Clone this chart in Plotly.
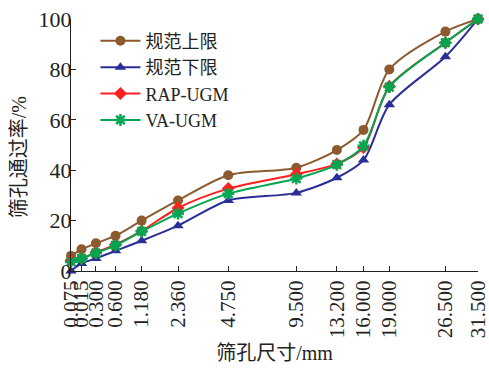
import plotly.graph_objects as go

sizes = [0.075, 0.15, 0.3, 0.6, 1.18, 2.36, 4.75, 9.5, 13.2, 16.0, 19.0, 26.5, 31.5]
tick_labels = ["0.075", "0.015", "0.300", "0.600", "1.180", "2.360", "4.750",
               "9.500", "13.200", "16.000", "19.000", "26.500", "31.500"]
upper = [6, 8.6, 11, 14, 20, 28, 38, 41, 48, 56, 80, 95, 100]
lower = [0, 3, 5, 8, 12, 18, 28, 31, 37, 44, 66, 85, 100]
rap = [4.2, 5, 7.4, 10.5, 15.9, 25, 32.7, 38.4, 42.5, 49, 73.3, 90.6, 100]
va = [3.6, 5, 7.1, 10.2, 15.7, 22.8, 30.7, 36.7, 42.2, 49.7, 73, 90.6, 100]

P = 0.45
xs = [s ** P for s in sizes]

serif = "Liberation Serif, Noto Sans CJK SC"

fig = go.Figure()
series = [
    ("规范上限", upper, "#8c5a2e", dict(symbol="circle", size=10)),
    ("规范下限", lower, "#2a2e96", dict(symbol="triangle-up", size=10)),
    ("RAP-UGM", rap, "#ff1f1f", dict(symbol="diamond", size=10)),
    ("VA-UGM", va, "#00a650", dict(symbol="asterisk-open", size=10)),
]
for name, ys, col, mk in series:
    m = dict(color=col, **mk)
    if mk["symbol"] == "asterisk-open":
        m["line"] = dict(color=col, width=2.5)
    fig.add_trace(go.Scatter(
        x=xs, y=ys, name=name, mode="lines+markers",
        line=dict(color=col, width=2, shape="spline", smoothing=0.8),
        marker=m, cliponaxis=False,
    ))

eps = 1e-6
fig.update_layout(
    width=489, height=368,
    margin=dict(l=71, r=11, t=19, b=97),
    paper_bgcolor="white", plot_bgcolor="white",
    font=dict(family=serif, size=21, color="#222"),
    showlegend=True,
    legend=dict(x=0.06, y=0.986, xanchor="left", yanchor="top",
                font=dict(family=serif, size=18, color="#222"),
                bgcolor="rgba(0,0,0,0)", tracegroupgap=0, itemwidth=40),
    xaxis=dict(
        range=[xs[0] - eps, xs[-1] + eps], tickmode="array", tickvals=xs, ticktext=tick_labels,
        tickangle=-90, ticks="inside", ticklen=5, tickcolor="#222",
        showline=True, linecolor="#222", linewidth=1, showgrid=False, zeroline=False,
        tickfont=dict(family=serif, size=21), ticklabeloverflow="allow", automargin=False,
        title=dict(text="筛孔尺寸/mm", font=dict(family=serif, size=20), standoff=8),
    ),
    yaxis=dict(
        range=[0, 100], tickvals=[0, 20, 40, 60, 80, 100], ticks="inside", ticklen=5,
        tickcolor="#222", showline=True, linecolor="#222", linewidth=1,
        showgrid=False, zeroline=False, ticklabelstandoff=-6, automargin=False,
        tickfont=dict(family=serif, size=22),
    ),
    annotations=[dict(
        text="筛孔通过率/%", xref="paper", yref="paper",
        x=(19 - 71) / 407, y=(270.7 - 157) / 252, xanchor="center", yanchor="middle",
        textangle=-90, showarrow=False, font=dict(family=serif, size=20, color="#222"),
    )],
)

fig.write_html("out.html")
